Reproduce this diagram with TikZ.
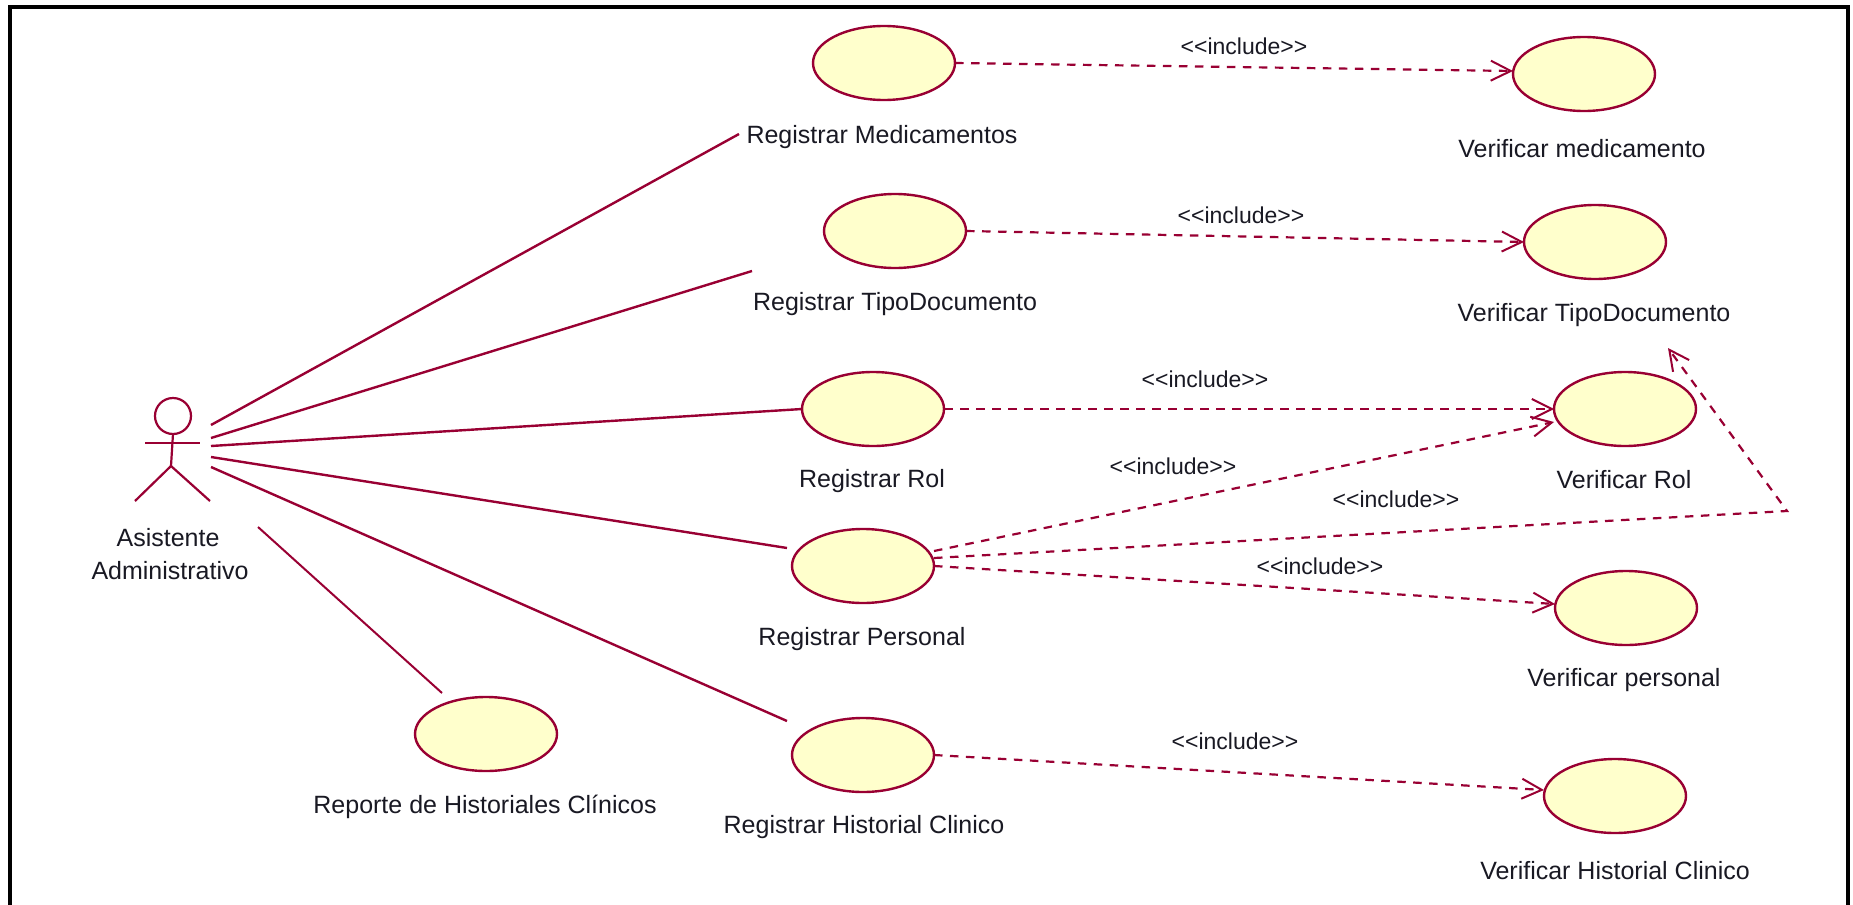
\documentclass[tikz,border=0pt]{standalone}
\usepackage{fontspec}
\setmainfont{Liberation Sans}
\usetikzlibrary{shapes.geometric,arrows.meta}
\definecolor{rose}{RGB}{153,0,51}
\definecolor{ucfill}{RGB}{255,255,204}
\definecolor{labeltext}{RGB}{25,25,35}
\tikzset{
  usecase/.style={ellipse,draw=rose,fill=ucfill,line width=2.4pt,minimum width=142pt,minimum height=74pt,inner sep=0pt,outer sep=0pt},
  caption/.style={inner sep=0pt,text=labeltext,font=\fontsize{25}{29}\selectfont},
  stereo/.style={inner sep=0pt,text=labeltext,font=\fontsize{23}{27}\selectfont},
  assoc/.style={draw=rose,line width=2.4pt},
  stick/.style={draw=rose,line width=2.2pt},
  incl/.style={draw=rose,line width=2.2pt,dash pattern=on 8.5pt off 7.5pt,-{Straight Barb[length=20pt,width=20pt,line width=2pt]}},
  frameline/.style={draw=black,line width=4pt}
}
\begin{document}
\begin{tikzpicture}[x=1pt,y=-1pt]
\useasboundingbox (0,0) rectangle (1853,905);
\fill[white] (0,0) rectangle (1853,905);
\draw[frameline] (10,905) -- (10,7) -- (1848,7) -- (1848,905);

% use cases
\node[usecase] (regMed) at (884,63) {};
\node[usecase] (regTipo) at (895,231) {};
\node[usecase] (regRol) at (873,409) {};
\node[usecase] (regPers) at (863,566) {};
\node[usecase] (regHist) at (863,755) {};
\node[usecase] (repHist) at (486,734) {};
\node[usecase] (verMed) at (1584,74) {};
\node[usecase] (verTipo) at (1595,242) {};
\node[usecase] (verRol) at (1625,409) {};
\node[usecase] (verPers) at (1626,608) {};
\node[usecase] (verHist) at (1615,796) {};

% captions
\node[caption] (capRegMed) at (882,137) {Registrar Medicamentos};
\node[caption] (capRegTipo) at (895,304) {Registrar TipoDocumento};
\node[caption] (capRegRol) at (872,481) {Registrar Rol};
\node[caption] (capRegPers) at (862,639) {Registrar Personal};
\node[caption] (capRegHist) at (864,827) {Registrar Historial Clinico};
\node[caption] (capRepHist) at (485,807) {Reporte de Historiales Clínicos};
\node[caption] (capVerMed) at (1582,149) {Verificar medicamento};
\node[caption] (capVerTipo) at (1594,315) {Verificar TipoDocumento};
\node[caption] (capVerRol) at (1624,480) {Verificar Rol};
\node[caption] (capVerPers) at (1624,680) {Verificar personal};
\node[caption] (capVerHist) at (1615,871) {Verificar Historial Clinico};

% actor
\node[circle,stick,minimum size=36pt,inner sep=0pt,outer sep=0pt] (actor) at (173,416) {};
\coordinate (hip) at (171,466);
\coordinate (armL) at (145,443);
\coordinate (armR) at (200,443);
\coordinate (legL) at (135,501);
\coordinate (legR) at (210,501);
\draw[stick] (actor.south) -- (hip);
\draw[stick] (armL) -- (armR);
\draw[stick] (legL) -- (hip) -- (legR);
\node[caption] (capActor1) at (168,538) {Asistente};
\node[caption] (capActor2) at (170,571) {Administrativo};

% association end points
\coordinate (a1) at (211,425);
\coordinate (a2) at (211,438);
\coordinate (a3) at (211,446);
\coordinate (a4) at (211,457);
\coordinate (a5) at (211,467);
\coordinate (a6) at (258,527);
\coordinate (e1) at (739,134);
\coordinate (e2) at (752,271);
\coordinate (e4) at (787,548);
\coordinate (e5) at (787,721);
\coordinate (e6) at (442,693);

\draw[assoc] (a1) -- (e1);
\draw[assoc] (a2) -- (e2);
\draw[assoc] (a3) -- (regRol.west);
\draw[assoc] (a4) -- (e4);
\draw[assoc] (a5) -- (e5);
\draw[assoc,line width=2pt] (a6) -- (e6);

% includes
\coordinate (bend) at (1787,511);
\coordinate (tipoEnd) at (1668,348);
\draw[incl] (regMed.east) -- ([yshift=3pt]verMed.west);
\draw[incl] (regTipo.east) -- (verTipo.west);
\draw[incl] (regRol.east) -- (verRol.west);
\draw[incl] ([yshift=15pt]regPers.east) -- ([yshift=-13pt]verRol.west);
\draw[incl] ([yshift=8pt]regPers.east) -- (bend) -- (tipoEnd);
\draw[incl] (regPers.east) -- ([yshift=4pt]verPers.west);
\draw[incl] (regHist.east) -- ([yshift=6pt]verHist.west);

\node[stereo] (inc1) at (1244,46) {<{}<include>{}>};
\node[stereo] (inc2) at (1241,215) {<{}<include>{}>};
\node[stereo] (inc3) at (1205,379) {<{}<include>{}>};
\node[stereo] (inc4) at (1173,466) {<{}<include>{}>};
\node[stereo] (inc5) at (1396,499) {<{}<include>{}>};
\node[stereo] (inc6) at (1320,566) {<{}<include>{}>};
\node[stereo] (inc7) at (1235,741) {<{}<include>{}>};
\end{tikzpicture}
\end{document}
